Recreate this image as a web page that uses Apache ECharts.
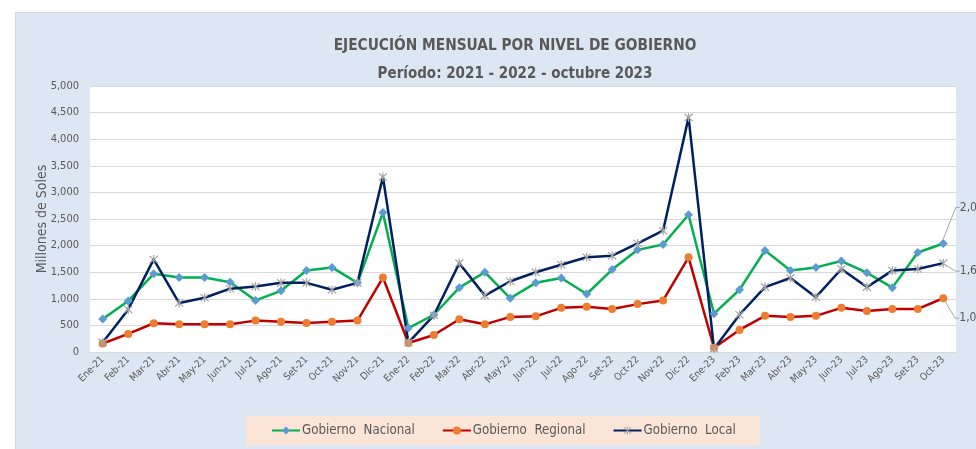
<!DOCTYPE html>
<html>
<head>
<meta charset="utf-8">
<script src="https://cdn.jsdelivr.net/npm/echarts@6/dist/echarts.min.js"></script>
<style>
  html, body { margin: 0; padding: 0; background: #ffffff; }
  #wrap { position: relative; width: 976px; height: 449px; }
  #bg { position: absolute; left: 15px; top: 12px; width: 965px; height: 440px;
        background: #dde7f3; border: 1px solid #d4d9df; box-sizing: border-box; }
  #chart { position: absolute; left: 0; top: 0; width: 976px; height: 449px; }
</style>
</head>
<body>
<div id="wrap">
  <div id="bg"></div>
  <div id="chart"></div>
</div>
<script>
// meses
const categories = [
  "Ene-21", "Feb-21", "Mar-21", "Abr-21", "May-21", "Jun-21", "Jul-21", "Ago-21", "Set-21", "Oct-21", "Nov-21", "Dic-21",
  "Ene-22", "Feb-22", "Mar-22", "Abr-22", "May-22", "Jun-22", "Jul-22", "Ago-22", "Set-22", "Oct-22", "Nov-22", "Dic-22",
  "Ene-23", "Feb-23", "Mar-23", "Abr-23", "May-23", "Jun-23", "Jul-23", "Ago-23", "Set-23", "Oct-23",
];

// millones de soles
const gobNacional = [
  620, 960, 1470, 1400, 1400, 1310, 970, 1150, 1530, 1590, 1300, 2620,
  450, 700, 1210, 1500, 1010, 1300, 1390, 1090, 1550, 1920, 2020, 2580,
  720, 1170, 1910, 1530, 1590, 1710, 1490, 1210, 1870, 2040,
];
const gobRegional = [
  160, 340, 540, 520, 520, 520, 590, 570, 545, 570, 590, 1400,
  170, 320, 615, 520, 660, 670, 830, 850, 810, 900, 970, 1780,
  80, 415, 680, 660, 680, 830, 770, 810, 810, 1010,
];
const gobLocal = [
  180, 800, 1740, 920, 1020, 1190, 1230, 1300, 1300, 1170, 1300, 3290,
  175, 690, 1670, 1060, 1330, 1500, 1640, 1780, 1810, 2040, 2280, 4410,
  60, 700, 1220, 1390, 1030, 1560, 1220, 1530, 1560, 1670,
];

const yTicks = [0, 500, 1000, 1500, 2000, 2500, 3000, 3500, 4000, 4500, 5000];

const FONT = "'DejaVu Sans Condensed', 'Liberation Sans Narrow', 'Open Sans', sans-serif";
const GRAY = "#595959";
const fmt = (v) => Number(v).toLocaleString("en-US");

// asterisco (marcador tipo Excel)
const STAR = "path://M4.4,0 L5.6,0 L5.6,10 L4.4,10 Z M0.5,1.4 L1.4,0.5 L9.5,8.6 L8.6,9.5 Z M8.6,0.5 L9.5,1.4 L1.4,9.5 L0.5,8.6 Z";

// solo la ultima etiqueta se muestra
function withLastLabel(values) {
  return values.map((v, i) =>
    i === values.length - 1 ? { value: v, label: { show: true } } : v
  );
}

function makeSeries(name, values, lineColor, symbol, symbolSize, symbolColor, dy) {
  return {
    name: name,
    type: "line",
    data: withLastLabel(values),
    symbol: symbol,
    symbolSize: symbolSize,
    showAllSymbol: true,
    lineStyle: { color: lineColor, width: 2.5 },
    itemStyle: { color: symbolColor },
    label: {
      show: false,
      position: "right",
      distance: 6,
      formatter: (p) => fmt(p.value),
      color: GRAY,
      fontFamily: FONT,
      fontSize: 12,
    },
    labelLine: { show: true, length2: 4, lineStyle: { color: "#a6a6a6", width: 1 } },
    labelLayout: { dx: 6, dy: dy },
    emphasis: { disabled: true },
  };
}

const chart = echarts.init(document.getElementById("chart"), null, { renderer: "canvas" });

const option = {
  backgroundColor: "transparent",
  animation: false,
  title: [
    {
      text: "EJECUCIÓN MENSUAL POR NIVEL DE GOBIERNO",
      left: 510,
      top: 34,
      textAlign: "center",
      textStyle: { fontFamily: FONT, fontSize: 15.3, fontWeight: "bold", color: GRAY },
    },
    {
      text: "Período: 2021 - 2022 - octubre 2023",
      left: 510,
      top: 62,
      textAlign: "center",
      textStyle: { fontFamily: FONT, fontSize: 15, fontWeight: "bold", color: GRAY },
    },
  ],
  legend: {
    left: 246,
    top: 416,
    padding: [8, 24, 8, 25],
    backgroundColor: "#fce4d6",
    itemWidth: 28,
    itemHeight: 10,
    itemGap: 27,
    textStyle: { fontFamily: FONT, fontSize: 13.2, color: GRAY, padding: [0, 0, 0, -3] },
    data: ["Gobierno  Nacional", "Gobierno  Regional", "Gobierno  Local"],
  },
  grid: {
    left: 90,
    right: 20,
    top: 86,
    bottom: 97,
    show: true,
    backgroundColor: "#ffffff",
    borderWidth: 0,
  },
  xAxis: {
    type: "category",
    data: categories,
    boundaryGap: true,
    axisLine: { lineStyle: { color: "#d9d9d9" } },
    axisTick: { show: false },
    axisLabel: {
      rotate: 45,
      interval: 0,
      margin: 6,
      color: GRAY,
      fontFamily: FONT,
      fontSize: 10,
    },
  },
  yAxis: {
    type: "value",
    min: yTicks[0],
    max: yTicks[yTicks.length - 1],
    interval: 500,
    name: "Millones de Soles",
    nameLocation: "middle",
    nameGap: 41,
    nameMoveOverlap: false,
    nameTextStyle: { color: GRAY, fontFamily: FONT, fontSize: 14 },
    axisLine: { show: false },
    axisTick: { show: false },
    splitLine: { lineStyle: { color: "#d9d9d9", width: 1 } },
    axisLabel: {
      margin: 11,
      color: GRAY,
      fontFamily: FONT,
      fontSize: 11,
      formatter: fmt,
    },
  },
  series: [
    makeSeries("Gobierno  Nacional", gobNacional, "#00b050", "diamond", 9, "#5b9bd5", -36),
    makeSeries("Gobierno  Regional", gobRegional, "#c00000", "circle", 8, "#ed7d31", 20),
    makeSeries("Gobierno  Local", gobLocal, "#002060", STAR, 9, "#a5a5a5", 8),
  ],
};

chart.setOption(option);
</script>
</body>
</html>
